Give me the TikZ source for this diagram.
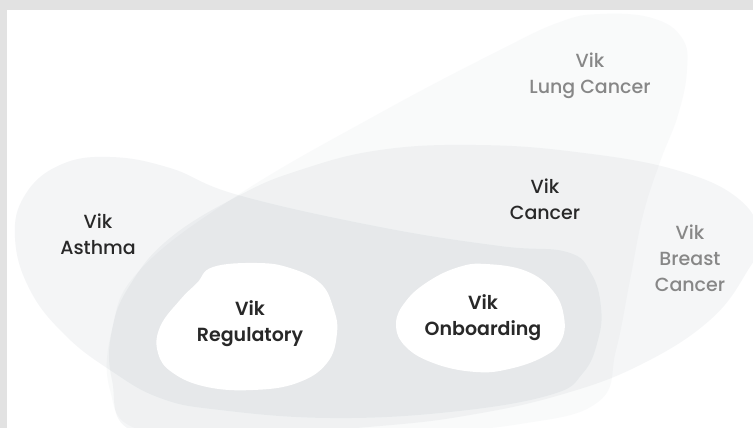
\documentclass[tikz,border=0pt]{standalone}
\usepackage{fontspec}
\setmainfont{Poppins}[UprightFont={* Medium}, BoldFont={* SemiBold}]
\definecolor{blobc}{RGB}{150,160,170}
\definecolor{bgframe}{RGB}{226,226,226}
\definecolor{darktext}{RGB}{40,40,40}
\definecolor{greytext}{RGB}{135,135,135}
\begin{document}
\begin{tikzpicture}[x=1pt,y=-1pt,
  lbl/.style={align=center, inner sep=0pt, font=\fontsize{19}{26}\selectfont},
  darklbl/.style={lbl, text=darktext},
  greylbl/.style={lbl, text=greytext},
  boldlbl/.style={lbl, text=darktext, font=\fontsize{19}{26}\selectfont\bfseries},
  blob/.style={fill=blobc}]
\useasboundingbox (0,0) rectangle (753,428);
\fill[bgframe] (0,0) rectangle (753,428);
\fill[white] (7,10) rectangle (753,428);
\begin{scope}
\clip (7,10) rectangle (753,428);
% Lung cancer blob
\fill[blob, fill opacity=0.05] plot[smooth cycle, tension=0.7] coordinates {
 (600,14) (652,18) (682,38) (687,70) (678,115) (660,162) (643,215) (630,280)
 (616,350) (598,402) (520,424) (400,434) (250,438) (140,430) (110,390)
 (112,330) (140,270) (238,195) (380,113) (500,50) (560,22)};
% Asthma blob
\fill[blob, fill opacity=0.10] plot[smooth cycle, tension=0.7] coordinates {
 (15,238) (25,195) (60,165) (110,157) (170,168) (238,195) (380,227) (500,246)
 (567,252) (591,273) (601,307) (598,340) (583,373) (550,395) (450,412)
 (330,418) (220,410) (160,398) (110,370) (65,335) (30,290)};
% Big cancer blob
\fill[blob, fill opacity=0.09] plot[smooth cycle, tension=0.7] coordinates {
 (135,432) (112,380) (112,330) (130,285) (170,238) (240,195) (300,170)
 (380,150) (476,145) (576,152) (676,170) (740,200) (760,240) (748,270)
 (710,320) (640,365) (560,395) (470,415) (380,426) (250,434)};
% Regulatory
\fill[white] plot[smooth cycle, tension=0.7] coordinates {
 (213,267) (197,283) (180,300) (160,327) (158,353) (173,373) (207,387)
 (253,390) (297,383) (327,363) (337,333) (333,307) (320,283) (290,268) (257,263)};
% Onboarding
\fill[white] plot[smooth cycle, tension=0.7] coordinates {
 (486,264) (526,271) (553,291) (564,317) (561,341) (543,357) (509,369)
 (476,372) (436,364) (406,347) (396,324) (406,301) (429,281) (459,267)};
\end{scope}
\node[greylbl] (lung) at (590,76) {Vik\\Lung Cancer};
\node[darklbl] (cancer) at (545,199) {Vik\\Cancer};
\node[darklbl] (asthma) at (98,234) {Vik\\Asthma};
\node[greylbl] (breast) at (690,258) {Vik\\Breast\\Cancer};
\node[boldlbl] (reg) at (250,324) {Vik\\Regulatory};
\node[boldlbl] (onb) at (483,318) {Vik\\Onboarding};
\end{tikzpicture}
\end{document}
